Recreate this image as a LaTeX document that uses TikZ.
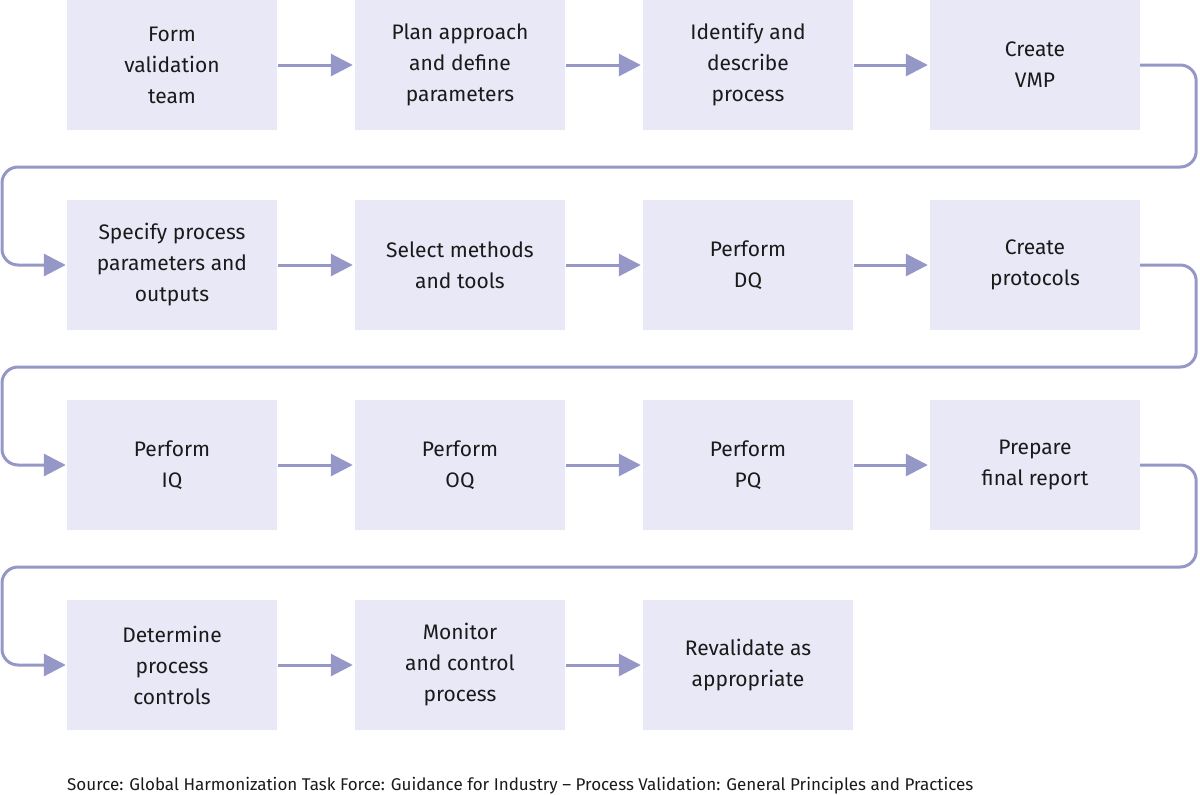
\documentclass[tikz,border=0pt]{standalone}
\usepackage{fontspec}
\setmainfont{Fira Sans}
\usetikzlibrary{arrows.meta}
\definecolor{boxfill}{HTML}{E8E8F6}
\definecolor{arr}{HTML}{9597C6}
\definecolor{txt}{HTML}{1A1A1A}
\begin{document}
\begin{tikzpicture}[x=1pt,y=-1pt,
  box/.style={fill=boxfill,minimum width=210pt,minimum height=130pt,inner sep=0pt,align=center,text=txt,font=\fontsize{21}{31}\selectfont},
  conn/.style={draw=arr,line width=3pt,-{Triangle[length=22pt,width=22pt]}},
  wrap/.style={conn,rounded corners=16pt}]
\useasboundingbox (0,0) rectangle (1200,795);
\node[box] (b1) at (172,65) {Form\\validation\\team};
\node[box] (b2) at (460,65) {Plan approach\\and define\\parameters};
\node[box] (b3) at (748,65) {Identify and\\describe\\process};
\node[box] (b4) at (1035,65) {Create\\VMP};
\node[box] (b5) at (172,265) {Specify process\\parameters and\\outputs};
\node[box] (b6) at (460,265) {Select methods\\and tools};
\node[box] (b7) at (748,265) {Perform\\DQ};
\node[box] (b8) at (1035,265) {Create\\protocols};
\node[box] (b9) at (172,465) {Perform\\IQ};
\node[box] (b10) at (460,465) {Perform\\OQ};
\node[box] (b11) at (748,465) {Perform\\PQ};
\node[box] (b12) at (1035,465) {Prepare\\final report};
\node[box] (b13) at (172,665) {Determine\\process\\controls};
\node[box] (b14) at (460,665) {Monitor\\and control\\process};
\node[box] (b15) at (748,665) {Revalidate as\\appropriate};
\foreach \a/\b in {b1/b2,b2/b3,b3/b4,b5/b6,b6/b7,b7/b8,b9/b10,b10/b11,b11/b12,b13/b14,b14/b15}
  \draw[conn] ([xshift=1pt]\a.east) -- ([xshift=-2pt]\b.west);
\foreach \a/\b/\y in {b4/b5/167,b8/b9/367,b12/b13/567}
  \draw[wrap] (\a.east) -- ++(56,0) |- (600,\y) -| (2,0 |- \b.west) -- ([xshift=-1pt]\b.west);
\node[anchor=base west,inner sep=0pt,text=txt,font=\fontsize{17}{20}\selectfont] (src) at (67,790) {Source: Global Harmonization Task Force: Guidance for Industry -- Process Validation: General Principles and Practices};
\end{tikzpicture}
\end{document}
